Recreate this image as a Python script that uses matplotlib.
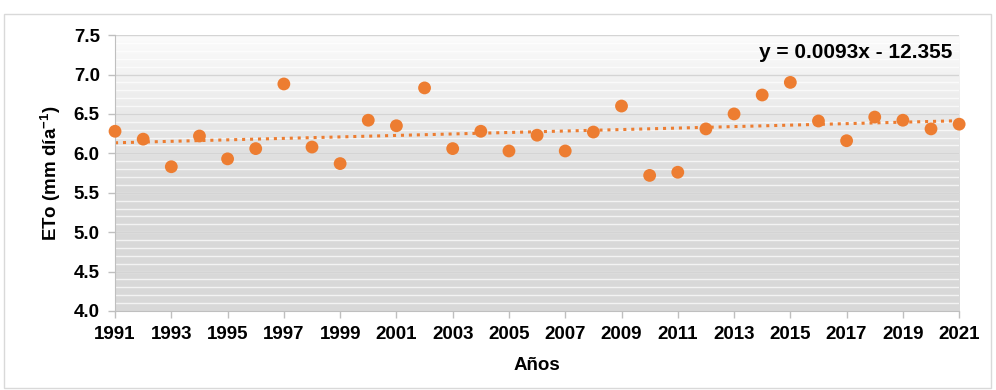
import matplotlib
matplotlib.use('Agg')

from matplotlib import pyplot as plt
from matplotlib.patches import Rectangle
import numpy as np

# DATA
years = list(range(1991, 2022))
eto = [6.28, 6.18, 5.83, 6.22, 5.93, 6.06, 6.88, 6.08, 5.87, 6.42,
       6.35, 6.83, 6.06, 6.28, 6.03, 6.23, 6.03, 6.27, 6.60, 5.72,
       5.76, 6.31, 6.50, 6.74, 6.90, 6.41, 6.16, 6.46, 6.42, 6.31,
       6.37]
xticks = list(range(1991, 2022, 2))
yticks = [4.0, 4.5, 5.0, 5.5, 6.0, 6.5, 7.0, 7.5]
equation = "y = 0.0093x - 12.355"

plt.rcParams['font.family'] = ['Liberation Sans', 'DejaVu Sans']
plt.rcParams['font.weight'] = 'bold'
plt.rcParams['mathtext.fontset'] = 'custom'
plt.rcParams['mathtext.rm'] = 'Liberation Sans:bold'
plt.rcParams['mathtext.bf'] = 'Liberation Sans:bold'

orange = '#ED7D31'
fs = 13.5

fig = plt.figure(figsize=(9.96, 3.9), dpi=100)
ax = fig.add_axes([0.1155, 0.2026, 0.8475, 0.7074])

# outer chart border
fig.patches.append(Rectangle((0.004, 0.006), 0.991, 0.958, transform=fig.transFigure,
                             fill=False, edgecolor='#d9d9d9', lw=1))

# gradient background of plot area
grad = np.linspace(0, 1, 256).reshape(-1, 1)
cvals = np.clip(grad / 0.55, 0, 1)
top = np.array([0.985, 0.985, 0.985])
bot = np.array([0.85, 0.85, 0.85])
img = top[None, None, :] * (1 - cvals[..., None]) + bot[None, None, :] * cvals[..., None]
ax.imshow(img, extent=[0, 1, 0, 1], transform=ax.transAxes, aspect='auto',
          zorder=0, origin='upper')

# gridlines
for v in np.arange(4.1, 7.5, 0.1):
    ax.axhline(v, color='white', lw=1, alpha=0.7, zorder=1)
for v in yticks[1:]:
    ax.axhline(v, color='#d4d4d4', lw=1, zorder=1)

# trend line
coef = np.polyfit(years, eto, 1)
xx = np.array([years[0], years[-1]])
ax.plot(xx, np.polyval(coef, xx), color=orange, lw=2.2,
        linestyle=(0, (1, 1.6)), zorder=2)

ax.scatter(years, eto, s=85, color=orange, edgecolor='none', zorder=3, clip_on=False)

ax.text(0.877, 0.938, equation, transform=ax.transAxes, ha='center', va='center',
        fontsize=15, fontweight='bold')

ax.set_xlim(1991, 2021)
ax.set_ylim(4.0, 7.5)
ax.set_xticks(xticks)
ax.set_yticks(yticks)
ax.set_yticklabels([f"{v:.1f}" for v in yticks])
ax.tick_params(axis='both', labelsize=fs, colors='#bfbfbf', labelcolor='black',
               length=5, width=1)
ax.tick_params(axis='x', pad=6)
ax.tick_params(axis='y', pad=6)
for lab in ax.get_xticklabels() + ax.get_yticklabels():
    lab.set_fontweight('bold')

for s in ['top', 'right']:
    ax.spines[s].set_visible(False)
for s in ['left', 'bottom']:
    ax.spines[s].set_color('#bfbfbf')

ax.set_xlabel("Años", fontsize=fs, fontweight='bold', labelpad=10)
ax.set_ylabel(r"ETo (mm día$^{-1}$)", fontsize=fs, fontweight='bold', labelpad=8)

fig.savefig("out.png", dpi=100)
plt.close()
